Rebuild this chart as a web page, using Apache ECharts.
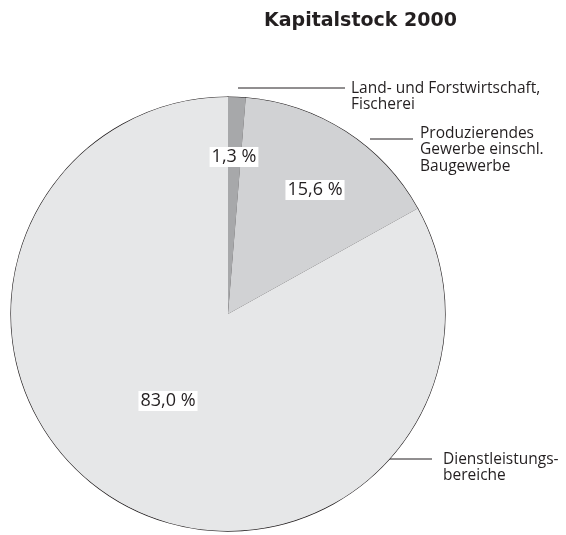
<!DOCTYPE html>
<html>
<head>
<meta charset="utf-8">
<script src="https://cdn.jsdelivr.net/npm/echarts@6/dist/echarts.min.js"></script>
<style>
  html, body { margin: 0; padding: 0; background: #fff; }
  #chart { width: 566px; height: 535px; }
</style>
</head>
<body>
<div id="chart"></div>
<script>
// Kapitalstock 2000 nach Wirtschaftsbereichen
var sectors = ['Land- und Forstwirtschaft,\nFischerei', 'Produzierendes\nGewerbe einschl.\nBaugewerbe', 'Dienstleistungs-\nbereiche'];
var shares = [1.3, 15.6, 83.0];
var sliceColors = ['#a7a8aa', '#d1d2d4', '#e6e7e8'];

// label placement (px)
var innerPos = [[234, 157], [315, 190], [168, 401]];
var outerPos = [
  { x: 351, y: 80, line: [[238, 88], [300, 88], [345, 88]] },
  { x: 420, y: 125, line: [[370, 139], [390, 139], [413, 139]] },
  { x: 443, y: 451, line: [[387, 459], [410, 459], [432, 459]] }
];

var font = '"Open Sans", "Noto Sans", sans-serif';

var pieData = sectors.map(function (name, i) {
  return { name: name, value: shares[i], itemStyle: { color: sliceColors[i] } };
});

var chart = echarts.init(document.getElementById('chart'));
chart.setOption({
  backgroundColor: '#ffffff',
  animation: false,
  title: {
    text: 'Kapitalstock 2000',
    left: 259,
    top: 7,
    textStyle: { fontFamily: '"DejaVu Sans", sans-serif', fontSize: 19, fontWeight: 'bold', color: '#231f20' }
  },
  series: [
    {
      // slices with percentage labels
      type: 'pie',
      center: [228, 314],
      radius: 217,
      startAngle: 90,
      clockwise: true,
      data: pieData,
      itemStyle: { borderColor: '#231f20', borderWidth: 1.2 },
      label: {
        position: 'inside',
        formatter: function (p) { return p.value.toFixed(1).replace('.', ',') + ' %'; },
        fontFamily: font,
        fontSize: 18,
        color: '#231f20',
        backgroundColor: '#ffffff',
        padding: [1, 2]
      },
      labelLayout: function (p) {
        var q = innerPos[p.dataIndex];
        return { x: q[0], y: q[1], align: 'center', verticalAlign: 'middle' };
      },
      labelLine: { show: false },
      emphasis: { disabled: true },
      silent: true
    },
    {
      // same slices, transparent, only for the sector names
      type: 'pie',
      center: [228, 314],
      radius: 217,
      startAngle: 90,
      clockwise: true,
      data: pieData,
      itemStyle: { color: 'rgba(0,0,0,0)', borderWidth: 0 },
      label: {
        position: 'outside',
        formatter: '{b}',
        fontFamily: font,
        fontSize: 15.5,
        lineHeight: 16.5,
        color: '#231f20',
        align: 'left',
        overflow: 'none'
      },
      labelLine: { show: true, lineStyle: { color: '#231f20', width: 1 } },
      labelLayout: function (p) {
        var o = outerPos[p.dataIndex];
        return { x: o.x, y: o.y, align: 'left', verticalAlign: 'top', labelLinePoints: o.line };
      },
      emphasis: { disabled: true },
      silent: true
    }
  ]
});
</script>
</body>
</html>
